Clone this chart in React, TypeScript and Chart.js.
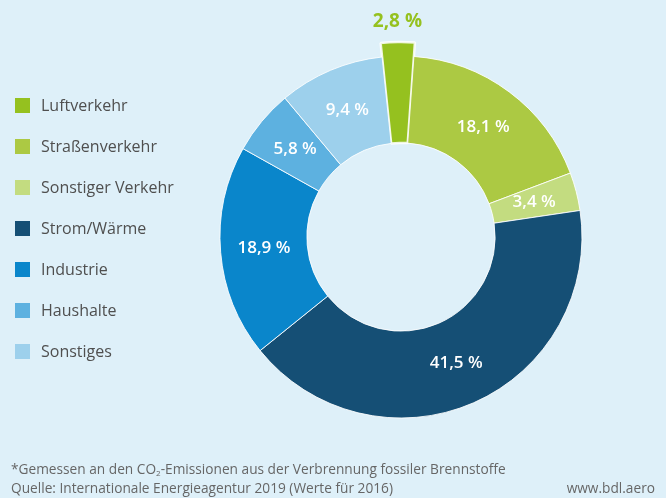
import React, { useEffect, useRef } from "react";
import { Chart, registerables } from "chart.js";

Chart.register(...registerables);

const categories = [
  "Luftverkehr",
  "Straßenverkehr",
  "Sonstiger Verkehr",
  "Strom/Wärme",
  "Industrie",
  "Haushalte",
  "Sonstiges",
];
const shares = [2.8, 18.1, 3.4, 41.5, 18.9, 5.8, 9.4];
const colors = ["#95c11f", "#acc943", "#c3dc80", "#154f75", "#0a86cb", "#5db1e0", "#9dd0ec"];
const footnote1a = "*Gemessen an den CO";
const footnote1b = "-Emissionen aus der Verbrennung fossiler Brennstoffe";
const footnote2 = "Quelle: Internationale Energieagentur 2019 (Werte für 2016)";
const siteLabel = "www.bdl.aero";

const BG = "#def0f9";
const FONT = "'Open Sans', 'Noto Sans', sans-serif";

const fmt = (v: number) => v.toFixed(1).replace(".", ",") + " %";

const highlightPlugin = {
  id: "highlight",
  beforeDatasetsDraw(chart: any) {
    const meta = chart.getDatasetMeta(0);
    const ctrl = meta.controller as any;
    const arc = meta.data[0] as any;
    if (arc && ctrl) arc.outerRadius = ctrl.outerRadius + 14;
  },
  afterDatasetsDraw(chart: any) {
    const ctx = chart.ctx;
    const meta = chart.getDatasetMeta(0);
    const ctrl = meta.controller as any;
    ctx.save();
    ctx.textAlign = "center";
    ctx.textBaseline = "middle";
    meta.data.forEach((arc: any, i: number) => {
      const label = fmt(shares[i]);
      if (i === 0) {
        const mid = (arc.startAngle + arc.endAngle) / 2;
        const r = ctrl.outerRadius + 34;
        ctx.fillStyle = colors[0];
        ctx.font = `bold 19px ${FONT}`;
        ctx.fillText(label, arc.x + Math.cos(mid) * r, arc.y + Math.sin(mid) * r);
      } else {
        const p = arc.tooltipPosition();
        ctx.fillStyle = "#ffffff";
        ctx.font = `600 17px ${FONT}`;
        ctx.fillText(label, p.x, p.y);
      }
    });
    ctx.restore();
  },
};

export default function App() {
  const ref = useRef<HTMLCanvasElement>(null);
  useEffect(() => {
    if (!ref.current) return;
    const chart = new Chart(ref.current, {
      type: "doughnut",
      data: {
        labels: categories,
        datasets: [
          {
            data: shares,
            backgroundColor: colors,
            borderColor: "rgba(255,255,255,0.85)",
            borderWidth: [2.5, 1, 1, 1, 1, 1, 1],
            hoverOffset: 0,
          },
        ],
      },
      options: {
        responsive: false,
        animation: false,
        rotation: -6,
        radius: 181,
        cutout: "52%",
        layout: { padding: { left: 136, right: 0, top: 0, bottom: 24 } },
        plugins: {
          legend: { display: false },
          tooltip: { enabled: false },
        },
      },
      plugins: [highlightPlugin],
    });
    return () => chart.destroy();
  }, []);

  const foot = { position: "absolute" as const, fontSize: 13.7, color: "#666", lineHeight: "19px", whiteSpace: "nowrap" as const };

  return (
    <div
      style={{
        position: "fixed",
        left: 0,
        top: 0,
        width: 666,
        height: 498,
        background: BG,
        fontFamily: FONT,
        overflow: "hidden",
      }}
    >
      <canvas ref={ref} width={666} height={498} style={{ position: "absolute", left: 0, top: 0 }} />
      {categories.map((c, i) => (
        <div
          key={c}
          style={{
            position: "absolute",
            left: 15,
            top: 105 + 41 * i - 10,
            height: 20,
            display: "flex",
            alignItems: "center",
            fontSize: 16,
            color: "#4f4f4f",
            whiteSpace: "nowrap",
          }}
        >
          <span style={{ display: "inline-block", width: 15, height: 15, background: colors[i], marginRight: 11 }} />
          {c}
        </div>
      ))}
      <div style={{ ...foot, left: 11, top: 459 }}>
        {footnote1a}
        <sub style={{ fontSize: 8, verticalAlign: "-2px" }}>2</sub>
        {footnote1b}
      </div>
      <div style={{ ...foot, left: 11, top: 478 }}>{footnote2}</div>
      <div style={{ ...foot, right: 11, top: 478 }}>{siteLabel}</div>
    </div>
  );
}
